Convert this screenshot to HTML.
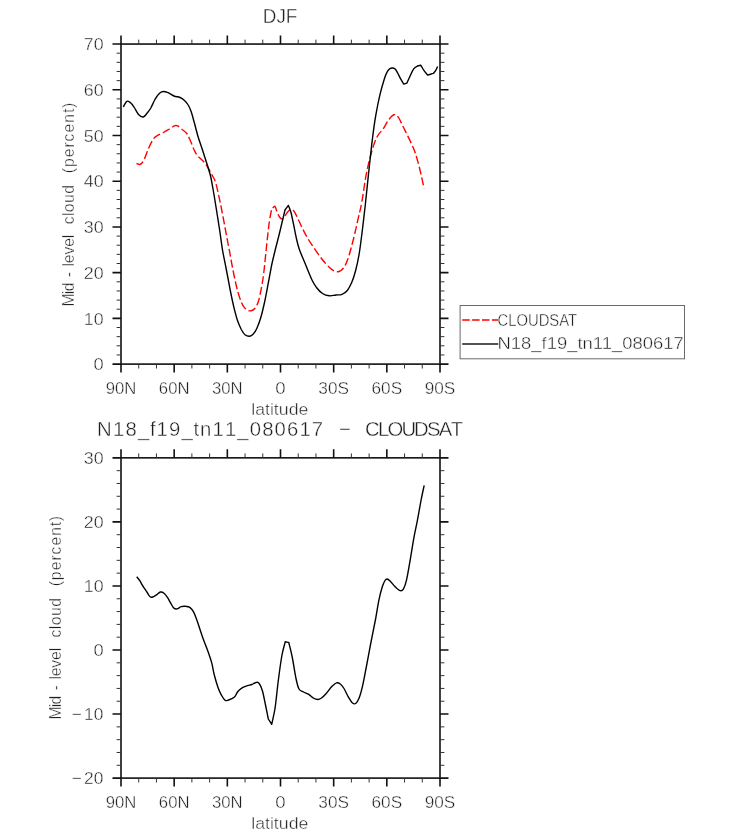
<!DOCTYPE html>
<html lang="en"><head><meta charset="utf-8"><title>DJF Mid-level cloud</title>
<style>html,body{margin:0;padding:0;background:#fff}body{width:733px;height:835px;overflow:hidden}svg{display:block}text{font-family:"Liberation Sans",sans-serif;fill:#1e1e1e;stroke:#fff;stroke-width:0.4px}</style>
</head><body>
<svg width="733" height="835" viewBox="0 0 733 835">
<rect width="733" height="835" fill="#fff"/>
<g id="top">
<text x="280.1" y="23.4" text-anchor="middle" font-size="20.2" textLength="34.6" lengthAdjust="spacingAndGlyphs">DJF</text>
<path d="M136.5 163.5C137.8 163.8 139.0 164.9 140.2 164.3C141.5 163.7 142.6 162.4 144.0 159.8C145.4 157.2 147.0 151.9 148.5 148.5C150.0 145.1 151.6 141.6 153.0 139.5C154.4 137.4 155.0 137.0 156.8 135.8C158.5 134.6 161.4 133.6 163.5 132.5C165.6 131.4 167.6 130.1 169.5 129.0C171.4 127.9 173.4 126.2 174.8 125.7C176.1 125.2 176.6 125.5 177.8 126.0C178.9 126.5 180.0 127.8 181.5 129.0C183.0 130.2 185.2 131.5 186.8 133.5C188.2 135.5 189.2 138.2 190.5 141.0C191.8 143.8 193.1 147.6 194.2 150.0C195.4 152.4 195.9 153.6 197.2 155.3C198.6 157.1 201.0 158.9 202.5 160.5C204.0 162.1 204.8 162.8 206.3 165.0C207.8 167.2 210.0 171.2 211.5 174.0C213.0 176.8 214.2 178.2 215.3 181.5C216.4 184.8 217.2 188.5 218.3 193.5C219.4 198.5 220.6 204.5 222.0 211.5C223.4 218.5 225.3 229.1 226.5 235.5C227.7 241.9 228.3 244.8 229.3 250.0C230.3 255.2 231.2 260.8 232.3 266.5C233.4 272.2 234.8 279.2 236.0 284.5C237.2 289.8 238.6 294.4 239.8 298.0C241.1 301.6 242.2 304.3 243.5 306.3C244.8 308.3 246.1 309.2 247.3 310.0C248.6 310.8 249.8 311.1 251.0 310.8C252.2 310.6 253.6 310.1 254.8 308.5C256.1 306.9 257.4 304.5 258.5 301.0C259.6 297.5 260.6 292.2 261.5 287.5C262.4 282.8 263.1 278.5 263.8 272.5C264.6 266.5 265.4 256.9 266.0 251.5C266.6 246.1 266.6 244.9 267.2 240.0C267.8 235.1 268.6 226.8 269.3 222.0C270.0 217.2 270.7 213.7 271.2 211.5C271.7 209.3 271.8 209.4 272.4 208.6C273.0 207.8 274.2 205.8 275.0 206.4C275.8 207.0 276.4 210.3 277.1 212.1C277.9 213.9 278.6 215.8 279.5 217.0C280.4 218.2 281.4 219.3 282.4 219.0C283.4 218.7 284.3 216.8 285.3 215.4C286.3 214.1 287.4 211.9 288.5 210.9C289.6 209.9 290.8 209.5 291.8 209.6C292.8 209.7 293.4 210.3 294.3 211.7C295.2 213.1 296.1 215.0 297.5 217.8C298.9 220.6 300.7 224.9 302.5 228.5C304.3 232.1 306.1 235.6 308.2 239.1C310.3 242.6 312.6 245.9 315.0 249.4C317.4 252.9 320.0 256.7 322.5 259.8C325.0 262.9 328.0 266.1 330.0 268.0C332.0 269.9 333.0 270.4 334.5 271.0C336.0 271.6 337.5 272.0 339.0 271.5C340.5 271.0 342.1 269.8 343.5 268.0C344.9 266.2 346.1 263.8 347.3 260.5C348.6 257.2 349.8 253.0 351.0 248.5C352.2 244.0 353.6 238.8 354.8 233.5C356.1 228.2 357.3 222.2 358.5 217.0C359.7 211.8 360.6 208.9 361.8 202.0C363.1 195.1 364.6 183.4 366.0 175.7C367.4 168.0 369.0 161.7 370.5 156.0C372.0 150.3 373.6 145.2 375.0 141.6C376.4 138.0 377.2 136.5 378.6 134.4C380.0 132.3 381.5 131.4 383.1 129.0C384.8 126.6 386.7 122.4 388.5 120.0C390.3 117.6 392.2 115.1 393.9 114.7C395.5 114.3 396.9 115.5 398.4 117.4C399.9 119.3 401.2 123.0 402.9 126.3C404.5 129.6 406.5 133.3 408.3 137.1C410.1 140.8 412.2 145.1 413.7 148.8C415.2 152.6 416.1 155.4 417.3 159.6C418.5 163.8 419.8 169.1 420.9 173.9C422.0 178.7 423.0 183.5 424.1 188.3" fill="none" stroke="#ff0000" stroke-width="1.4" stroke-dasharray="8 3" stroke-linejoin="round"/>
<path d="M123.3 106.8C124.5 105.0 125.5 102.0 126.8 101.3C128.0 100.6 129.2 101.8 130.5 102.8C131.8 103.8 132.9 105.3 134.2 107.3C135.6 109.3 137.2 113.2 138.8 114.8C140.2 116.4 141.9 117.2 143.2 117.0C144.6 116.8 145.8 114.8 147.0 113.3C148.2 111.8 149.4 110.4 150.8 108.0C152.1 105.6 153.8 101.5 155.2 99.0C156.8 96.5 158.4 94.2 159.8 93.0C161.1 91.8 162.1 91.5 163.5 91.5C164.9 91.5 166.2 92.0 168.0 92.7C169.8 93.5 172.0 95.2 174.0 96.0C176.0 96.8 178.2 96.8 180.0 97.5C181.8 98.2 183.1 99.2 184.5 100.5C185.9 101.8 187.1 103.1 188.2 105.0C189.4 106.9 190.2 108.9 191.2 111.8C192.2 114.7 193.1 118.2 194.2 122.3C195.4 126.4 196.6 131.9 198.0 136.5C199.4 141.1 200.9 145.0 202.5 150.0C204.1 155.0 206.4 162.0 207.8 166.5C209.1 171.0 209.9 173.2 210.8 177.0C211.6 180.8 212.1 184.0 213.0 189.0C213.9 194.0 214.9 200.0 216.0 207.0C217.1 214.0 218.7 223.8 219.8 231.0C220.9 238.2 221.4 243.6 222.5 250.0C223.6 256.4 225.1 263.0 226.3 269.5C227.6 276.0 228.8 282.8 230.0 289.0C231.2 295.2 232.6 301.8 233.8 307.0C235.1 312.2 236.2 316.8 237.5 320.5C238.8 324.2 240.1 327.1 241.3 329.5C242.6 331.9 243.6 333.7 245.0 334.8C246.4 335.9 248.1 336.4 249.5 336.3C250.9 336.2 252.1 335.4 253.3 334.0C254.6 332.6 255.8 330.8 257.0 328.0C258.2 325.2 259.6 321.8 260.8 317.5C262.1 313.2 263.2 308.2 264.5 302.5C265.8 296.8 267.1 289.5 268.3 283.0C269.6 276.5 270.8 269.0 272.0 263.5C273.2 258.0 273.8 255.8 275.2 250.0C276.7 244.2 278.9 235.7 280.5 229.0C282.1 222.3 283.5 216.3 285.0 210.0C286.1 208.5 287.3 206.9 288.4 205.4C289.3 207.8 290.2 209.6 291.0 212.5C291.8 215.4 292.4 218.8 293.3 223.0C294.2 227.2 295.3 233.6 296.3 238.0C297.3 242.4 297.9 245.3 299.3 249.3C300.7 253.3 302.4 256.9 304.5 262.0C306.6 267.1 310.0 275.8 312.0 280.0C314.0 284.2 314.8 285.2 316.5 287.5C318.2 289.8 320.4 292.1 322.5 293.5C324.6 294.9 327.1 295.6 329.3 295.8C331.6 296.1 333.9 295.2 336.0 295.0C338.1 294.8 340.1 295.1 342.0 294.3C343.9 293.6 345.7 292.5 347.3 290.5C348.9 288.5 350.4 285.6 351.8 282.3C353.2 279.1 354.2 275.9 355.5 271.0C356.8 266.1 358.2 259.8 359.3 253.0C360.4 246.2 361.3 238.5 362.3 230.5C363.3 222.5 364.2 214.7 365.3 205.0C366.4 195.3 367.5 183.1 368.7 172.2C369.9 161.3 371.1 149.4 372.3 139.8C373.5 130.2 374.6 122.2 375.9 114.7C377.2 107.2 378.5 100.9 379.9 94.9C381.3 88.9 383.2 82.5 384.4 78.7C385.6 74.9 386.0 74.0 386.9 72.3C387.8 70.6 388.8 69.4 389.7 68.7C390.6 68.0 391.4 68.0 392.3 68.0C393.2 68.0 394.0 68.0 394.9 68.8C395.8 69.6 396.7 71.1 397.6 72.8C398.5 74.5 399.5 76.8 400.5 78.7C401.5 80.6 402.7 82.3 403.8 84.1C404.8 83.8 405.8 83.5 406.8 83.2C407.9 80.8 409.0 78.4 410.1 76.0C411.2 73.6 412.5 70.5 413.7 68.9C414.9 67.3 416.1 66.8 417.3 66.2C418.5 65.6 419.7 65.6 420.9 65.3C422.0 67.1 423.0 69.1 424.1 70.7C425.2 72.3 426.5 73.6 427.7 75.1C429.6 74.5 431.5 74.0 433.4 73.4C434.3 72.2 435.4 71.0 436.1 69.8C436.8 68.6 437.1 67.6 437.6 66.5" fill="none" stroke="#000" stroke-width="1.4" stroke-linejoin="round"/>
<rect x="121.00" y="44.05" width="319.00" height="320.05" fill="none" stroke="#111" stroke-width="1.6"/>
<path d="M121.00 44.05v-8.50M121.00 364.10v8.50M174.17 44.05v-8.50M174.17 364.10v8.50M227.33 44.05v-8.50M227.33 364.10v8.50M280.50 44.05v-8.50M280.50 364.10v8.50M333.67 44.05v-8.50M333.67 364.10v8.50M386.83 44.05v-8.50M386.83 364.10v8.50M440.00 44.05v-8.50M440.00 364.10v8.50M121.00 364.10h-8.50M440.00 364.10h8.50M121.00 318.38h-8.50M440.00 318.38h8.50M121.00 272.66h-8.50M440.00 272.66h8.50M121.00 226.94h-8.50M440.00 226.94h8.50M121.00 181.21h-8.50M440.00 181.21h8.50M121.00 135.49h-8.50M440.00 135.49h8.50M121.00 89.77h-8.50M440.00 89.77h8.50M121.00 44.05h-8.50M440.00 44.05h8.50" stroke="#111" stroke-width="1.6" fill="none"/>
<path d="M138.72 44.05v-4.40M138.72 364.10v4.40M156.44 44.05v-4.40M156.44 364.10v4.40M191.89 44.05v-4.40M191.89 364.10v4.40M209.61 44.05v-4.40M209.61 364.10v4.40M245.06 44.05v-4.40M245.06 364.10v4.40M262.78 44.05v-4.40M262.78 364.10v4.40M298.22 44.05v-4.40M298.22 364.10v4.40M315.94 44.05v-4.40M315.94 364.10v4.40M351.39 44.05v-4.40M351.39 364.10v4.40M369.11 44.05v-4.40M369.11 364.10v4.40M404.56 44.05v-4.40M404.56 364.10v4.40M422.28 44.05v-4.40M422.28 364.10v4.40M121.00 354.96h-4.40M440.00 354.96h4.40M121.00 345.81h-4.40M440.00 345.81h4.40M121.00 336.67h-4.40M440.00 336.67h4.40M121.00 327.52h-4.40M440.00 327.52h4.40M121.00 309.23h-4.40M440.00 309.23h4.40M121.00 300.09h-4.40M440.00 300.09h4.40M121.00 290.95h-4.40M440.00 290.95h4.40M121.00 281.80h-4.40M440.00 281.80h4.40M121.00 263.51h-4.40M440.00 263.51h4.40M121.00 254.37h-4.40M440.00 254.37h4.40M121.00 245.22h-4.40M440.00 245.22h4.40M121.00 236.08h-4.40M440.00 236.08h4.40M121.00 217.79h-4.40M440.00 217.79h4.40M121.00 208.65h-4.40M440.00 208.65h4.40M121.00 199.50h-4.40M440.00 199.50h4.40M121.00 190.36h-4.40M440.00 190.36h4.40M121.00 172.07h-4.40M440.00 172.07h4.40M121.00 162.93h-4.40M440.00 162.93h4.40M121.00 153.78h-4.40M440.00 153.78h4.40M121.00 144.64h-4.40M440.00 144.64h4.40M121.00 126.35h-4.40M440.00 126.35h4.40M121.00 117.20h-4.40M440.00 117.20h4.40M121.00 108.06h-4.40M440.00 108.06h4.40M121.00 98.92h-4.40M440.00 98.92h4.40M121.00 80.63h-4.40M440.00 80.63h4.40M121.00 71.48h-4.40M440.00 71.48h4.40M121.00 62.34h-4.40M440.00 62.34h4.40M121.00 53.19h-4.40M440.00 53.19h4.40" stroke="#333" stroke-width="1" fill="none"/>
<text x="121.00" y="393.80" text-anchor="middle" font-size="17.3" textLength="30.6" lengthAdjust="spacingAndGlyphs">90N</text>
<text x="174.17" y="393.80" text-anchor="middle" font-size="17.3" textLength="30.6" lengthAdjust="spacingAndGlyphs">60N</text>
<text x="227.33" y="393.80" text-anchor="middle" font-size="17.3" textLength="30.6" lengthAdjust="spacingAndGlyphs">30N</text>
<text x="280.50" y="393.80" text-anchor="middle" font-size="17.3" textLength="10.4" lengthAdjust="spacingAndGlyphs">0</text>
<text x="333.67" y="393.80" text-anchor="middle" font-size="17.3" textLength="30.6" lengthAdjust="spacingAndGlyphs">30S</text>
<text x="386.83" y="393.80" text-anchor="middle" font-size="17.3" textLength="30.6" lengthAdjust="spacingAndGlyphs">60S</text>
<text x="440.00" y="393.80" text-anchor="middle" font-size="17.3" textLength="30.6" lengthAdjust="spacingAndGlyphs">90S</text>
<text x="93.4" y="370.30" font-size="17.3" textLength="10.2" lengthAdjust="spacingAndGlyphs">0</text>
<text x="83.8" y="324.58" font-size="17.3" textLength="19.8" lengthAdjust="spacingAndGlyphs">10</text>
<text x="83.8" y="278.86" font-size="17.3" textLength="19.8" lengthAdjust="spacingAndGlyphs">20</text>
<text x="83.8" y="233.14" font-size="17.3" textLength="19.8" lengthAdjust="spacingAndGlyphs">30</text>
<text x="83.8" y="187.41" font-size="17.3" textLength="19.8" lengthAdjust="spacingAndGlyphs">40</text>
<text x="83.8" y="141.69" font-size="17.3" textLength="19.8" lengthAdjust="spacingAndGlyphs">50</text>
<text x="83.8" y="95.97" font-size="17.3" textLength="19.8" lengthAdjust="spacingAndGlyphs">60</text>
<text x="83.8" y="50.25" font-size="17.3" textLength="19.8" lengthAdjust="spacingAndGlyphs">70</text>
<text transform="translate(73.9 305.8) rotate(-90)" font-size="15.8" x="-0.7 11.6 14.5 28.5 39.3 42.6 51.2 59.0 67.6 76.9 81.5 89.7 93.6 102.8 112.1 127.9 132.6 138.7 148.6 158.3 164.3 173.3 183.1 192.7 197.7">Mid-level cloud (percent)</text>
<text x="251.2" y="415.4" font-size="15.8" textLength="57.2" lengthAdjust="spacingAndGlyphs">latitude</text>
</g>
<g id="legend">
<rect x="460.1" y="305.5" width="224.4" height="53.3" fill="#fff" stroke="#6a6a6a" stroke-width="1"/>
<path d="M462.2 320H498.4" stroke="#ff0000" stroke-width="1.5" stroke-dasharray="7.5 2.4" fill="none"/>
<path d="M462.2 343.9H498.4" stroke="#1a1a1a" stroke-width="1.5" fill="none"/>
<text x="497.5" y="325.6" font-size="16.3" textLength="79.6" lengthAdjust="spacingAndGlyphs">CLOUDSAT</text>
<text x="497.5" y="348.8" font-size="16.3" textLength="186.2" lengthAdjust="spacingAndGlyphs">N18_f19_tn11_080617</text>
</g>
<g id="bottom">
<text y="436.1" font-size="20.3" x="97.1 113.1 125.5 137.9 150.1 156.6 169.0 181.4 193.6 200.0 212.5 224.9 237.3 249.7 262.2 274.6 287.0 299.4 311.8 333.4 339.0 360.3 365.0 378.0 387.5 401.4 414.1 427.0 438.8 450.7">N18_f19_tn11_080617 − CLOUDSAT</text>
<path d="M136.7 576.7C137.7 578.0 138.7 579.0 139.8 580.7C140.9 582.4 142.2 585.0 143.4 586.9C144.6 588.8 145.8 590.4 146.9 592.0C148.0 593.6 149.1 596.0 150.2 596.8C151.2 597.6 152.1 597.1 153.2 596.8C154.3 596.4 155.6 595.5 156.8 594.7C158.0 593.9 159.2 592.2 160.4 592.0C161.6 591.8 162.8 592.2 164.0 593.2C165.2 594.2 166.4 595.9 167.6 597.7C168.8 599.5 170.1 602.3 171.2 604.0C172.2 605.7 172.9 607.3 173.9 608.1C174.9 608.9 175.9 609.1 177.1 608.9C178.3 608.7 179.7 607.1 181.1 606.7C182.5 606.3 184.1 606.1 185.6 606.3C187.1 606.4 188.8 606.6 190.1 607.6C191.4 608.6 192.5 609.9 193.7 612.1C194.9 614.4 195.7 616.9 197.2 621.1C198.7 625.3 200.8 632.1 202.6 637.2C204.4 642.3 206.5 647.4 208.0 651.6C209.5 655.8 210.5 658.5 211.6 662.4C212.7 666.3 213.2 670.8 214.3 675.0C215.4 679.2 216.8 684.0 218.0 687.5C219.2 691.0 220.6 693.7 221.8 695.8C222.9 697.9 224.1 699.6 225.2 700.3C226.3 701.0 226.9 700.5 228.5 700.0C230.1 699.5 233.0 698.3 234.5 697.0C236.0 695.7 236.4 693.5 237.5 692.0C238.6 690.5 239.7 689.3 241.3 688.3C242.9 687.2 245.6 686.3 247.3 685.7C249.1 685.1 250.6 685.0 251.8 684.5C253.1 684.0 253.7 683.3 254.8 683.0C255.9 682.7 257.2 681.5 258.5 682.7C259.8 684.0 261.2 687.0 262.3 690.5C263.4 694.0 264.3 699.2 265.3 704.0C266.3 708.8 267.3 714.0 268.3 719.0C269.4 720.8 270.6 722.5 271.7 724.3C272.8 719.0 273.9 715.4 275.0 708.5C276.1 701.6 276.9 691.8 278.0 683.0C279.1 674.2 280.6 662.9 281.8 656.0C283.0 649.1 284.1 646.5 285.2 641.8C286.4 642.0 287.6 642.3 288.8 642.5C290.0 647.5 291.1 651.5 292.3 657.5C293.5 663.5 294.9 673.2 296.0 678.5C297.1 683.8 297.8 686.8 299.0 689.0C300.2 691.2 301.9 691.1 303.5 692.0C305.1 692.9 307.2 693.3 308.8 694.3C310.4 695.3 311.8 697.1 313.3 698.0C314.8 698.9 316.4 699.5 317.8 699.5C319.2 699.5 320.1 699.0 321.5 698.0C322.9 697.0 324.2 695.8 326.0 693.8C327.8 691.8 330.2 688.1 332.0 686.3C333.8 684.5 335.1 683.2 336.5 682.8C337.9 682.4 339.1 683.0 340.3 684.0C341.6 685.0 342.8 686.5 344.0 688.5C345.2 690.5 346.4 693.6 347.8 696.0C349.2 698.4 351.0 701.5 352.3 702.8C353.6 704.0 354.6 704.2 355.7 703.5C356.8 702.8 357.8 701.4 359.0 698.3C360.2 695.2 361.6 690.2 362.8 684.8C364.1 679.4 365.1 673.1 366.5 666.0C367.9 658.9 369.5 649.8 371.0 642.0C372.5 634.2 374.2 626.3 375.5 619.5C376.8 612.7 377.6 606.6 378.7 601.1C379.8 595.6 381.2 590.2 382.3 586.8C383.4 583.4 384.2 581.8 385.0 580.5C385.8 579.2 386.3 578.9 387.2 579.0C388.1 579.1 389.1 580.2 390.4 581.4C391.7 582.6 393.2 584.8 394.9 586.4C396.5 588.0 398.9 590.3 400.3 590.7C401.7 591.1 402.4 590.8 403.5 588.9C404.6 587.0 405.5 584.5 406.6 579.6C407.7 574.8 409.0 566.7 410.2 559.8C411.4 552.9 412.6 544.9 413.8 538.3C415.0 531.7 416.2 526.6 417.4 520.3C418.6 514.0 419.9 506.3 421.0 500.5C422.1 494.7 423.1 490.4 424.2 485.3" fill="none" stroke="#000" stroke-width="1.4" stroke-linejoin="round"/>
<rect x="121.00" y="457.85" width="319.00" height="320.25" fill="none" stroke="#111" stroke-width="1.6"/>
<path d="M121.00 457.85v-8.50M121.00 778.10v8.50M174.17 457.85v-8.50M174.17 778.10v8.50M227.33 457.85v-8.50M227.33 778.10v8.50M280.50 457.85v-8.50M280.50 778.10v8.50M333.67 457.85v-8.50M333.67 778.10v8.50M386.83 457.85v-8.50M386.83 778.10v8.50M440.00 457.85v-8.50M440.00 778.10v8.50M121.00 778.10h-8.50M440.00 778.10h8.50M121.00 714.05h-8.50M440.00 714.05h8.50M121.00 650.00h-8.50M440.00 650.00h8.50M121.00 585.95h-8.50M440.00 585.95h8.50M121.00 521.90h-8.50M440.00 521.90h8.50M121.00 457.85h-8.50M440.00 457.85h8.50" stroke="#111" stroke-width="1.6" fill="none"/>
<path d="M138.72 457.85v-4.40M138.72 778.10v4.40M156.44 457.85v-4.40M156.44 778.10v4.40M191.89 457.85v-4.40M191.89 778.10v4.40M209.61 457.85v-4.40M209.61 778.10v4.40M245.06 457.85v-4.40M245.06 778.10v4.40M262.78 457.85v-4.40M262.78 778.10v4.40M298.22 457.85v-4.40M298.22 778.10v4.40M315.94 457.85v-4.40M315.94 778.10v4.40M351.39 457.85v-4.40M351.39 778.10v4.40M369.11 457.85v-4.40M369.11 778.10v4.40M404.56 457.85v-4.40M404.56 778.10v4.40M422.28 457.85v-4.40M422.28 778.10v4.40M121.00 765.29h-4.40M440.00 765.29h4.40M121.00 752.48h-4.40M440.00 752.48h4.40M121.00 739.67h-4.40M440.00 739.67h4.40M121.00 726.86h-4.40M440.00 726.86h4.40M121.00 701.24h-4.40M440.00 701.24h4.40M121.00 688.43h-4.40M440.00 688.43h4.40M121.00 675.62h-4.40M440.00 675.62h4.40M121.00 662.81h-4.40M440.00 662.81h4.40M121.00 637.19h-4.40M440.00 637.19h4.40M121.00 624.38h-4.40M440.00 624.38h4.40M121.00 611.57h-4.40M440.00 611.57h4.40M121.00 598.76h-4.40M440.00 598.76h4.40M121.00 573.14h-4.40M440.00 573.14h4.40M121.00 560.33h-4.40M440.00 560.33h4.40M121.00 547.52h-4.40M440.00 547.52h4.40M121.00 534.71h-4.40M440.00 534.71h4.40M121.00 509.09h-4.40M440.00 509.09h4.40M121.00 496.28h-4.40M440.00 496.28h4.40M121.00 483.47h-4.40M440.00 483.47h4.40M121.00 470.66h-4.40M440.00 470.66h4.40" stroke="#333" stroke-width="1" fill="none"/>
<text x="121.00" y="807.80" text-anchor="middle" font-size="17.3" textLength="30.6" lengthAdjust="spacingAndGlyphs">90N</text>
<text x="174.17" y="807.80" text-anchor="middle" font-size="17.3" textLength="30.6" lengthAdjust="spacingAndGlyphs">60N</text>
<text x="227.33" y="807.80" text-anchor="middle" font-size="17.3" textLength="30.6" lengthAdjust="spacingAndGlyphs">30N</text>
<text x="280.50" y="807.80" text-anchor="middle" font-size="17.3" textLength="10.4" lengthAdjust="spacingAndGlyphs">0</text>
<text x="333.67" y="807.80" text-anchor="middle" font-size="17.3" textLength="30.6" lengthAdjust="spacingAndGlyphs">30S</text>
<text x="386.83" y="807.80" text-anchor="middle" font-size="17.3" textLength="30.6" lengthAdjust="spacingAndGlyphs">60S</text>
<text x="440.00" y="807.80" text-anchor="middle" font-size="17.3" textLength="30.6" lengthAdjust="spacingAndGlyphs">90S</text>
<text y="784.30" font-size="17.3" x="71.8 83.9 93.8">−20</text>
<text y="720.25" font-size="17.3" x="71.8 83.9 93.8">−10</text>
<text x="93.4" y="656.20" font-size="17.3" textLength="10.2" lengthAdjust="spacingAndGlyphs">0</text>
<text x="83.8" y="592.15" font-size="17.3" textLength="19.8" lengthAdjust="spacingAndGlyphs">10</text>
<text x="83.8" y="528.10" font-size="17.3" textLength="19.8" lengthAdjust="spacingAndGlyphs">20</text>
<text x="83.8" y="464.05" font-size="17.3" textLength="19.8" lengthAdjust="spacingAndGlyphs">30</text>
<text transform="translate(61.4 718.9) rotate(-90)" font-size="15.8" x="-0.7 11.6 14.5 28.5 39.3 42.6 51.2 59.0 67.6 76.9 81.5 89.7 93.6 102.8 112.1 127.9 132.6 138.7 148.6 158.3 164.3 173.3 183.1 192.7 197.7">Mid-level cloud (percent)</text>
<text x="251.2" y="829.0" font-size="15.8" textLength="57.2" lengthAdjust="spacingAndGlyphs">latitude</text>
</g>
</svg></body></html>
